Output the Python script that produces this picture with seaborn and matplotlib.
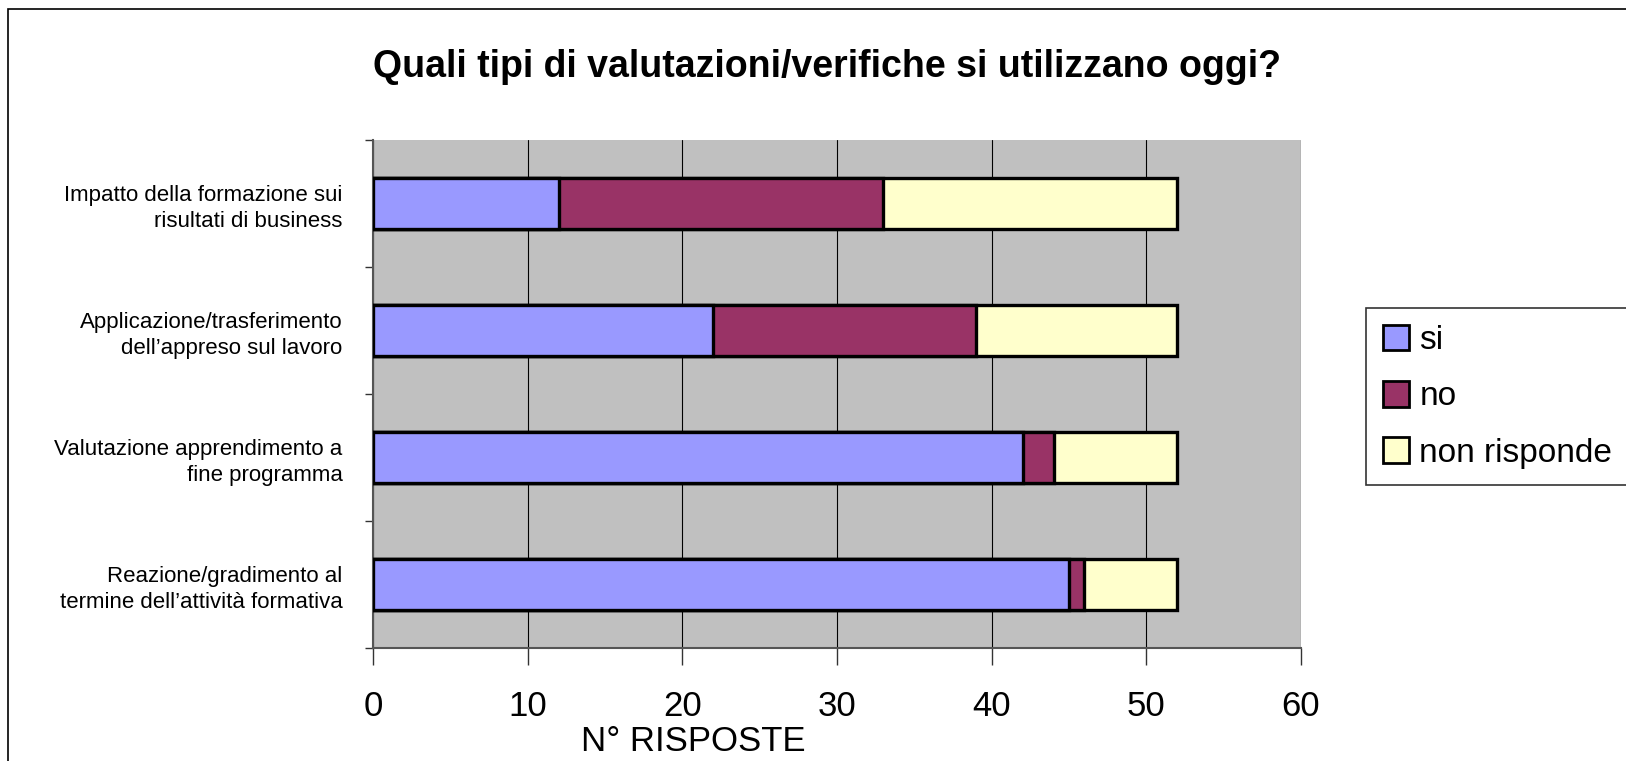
import pandas as pd
import matplotlib
matplotlib.use("Agg")
from matplotlib import pyplot as plt
from matplotlib.patches import Patch, Rectangle
import seaborn as sb

categories = [
    "Impatto della formazione sui\nrisultati di business",
    "Applicazione/trasferimento\ndell\u2019appreso sul lavoro",
    "Valutazione apprendimento a\nfine programma",
    "Reazione/gradimento al\ntermine dell\u2019attivit\u00e0 formativa",
]
si = [12, 22, 42, 45]
no = [21, 17, 2, 1]
non_risponde = [19, 13, 8, 6]
series_names = ["si", "no", "non risponde"]
colors = ["#9999FF", "#993366", "#FFFFCC"]
x_ticks = [0, 10, 20, 30, 40, 50, 60]

df = pd.DataFrame({"cat": categories, "si": si, "no": no, "non": non_risponde})
df["cum_si"] = df["si"]
df["cum_no"] = df["si"] + df["no"]
df["cum_non"] = df["cum_no"] + df["non"]

sb.set_theme(style="white")
plt.rcParams["font.family"] = ["Liberation Sans", "DejaVu Sans"]
plt.rcParams["text.color"] = "black"
plt.rcParams["xtick.color"] = "black"
plt.rcParams["ytick.color"] = "black"
plt.rcParams["axes.labelcolor"] = "black"

fig = plt.figure(figsize=(16.26, 7.61), dpi=100)
ax = fig.add_axes([373 / 1626, 1 - 648 / 761, 928 / 1626, 508 / 761])
ax.set_facecolor("#C0C0C0")

# stacked bars: draw the cumulative totals from the largest down
for col, c in zip(["cum_non", "cum_no", "cum_si"], colors[::-1]):
    sb.barplot(data=df, x=col, y="cat", orient="h", color=c, width=0.4,
               edgecolor="black", linewidth=2.4, saturation=1, ax=ax, zorder=3)

ax.set_xlim(0, 60)
ax.set_ylim(3.5, -0.5)
ax.set_xticks(x_ticks)
ax.set_xticklabels([str(t) for t in x_ticks], fontsize=25)
ax.tick_params(axis="x", length=12, width=1, color="#333333", pad=18, direction="out", bottom=True)
ax.set_yticks(range(len(categories)))
ax.set_yticklabels(categories, fontsize=16, linespacing=1.3)
ax.tick_params(axis="y", which="major", length=0, pad=22)
ax.set_yticks([-0.5, 0.5, 1.5, 2.5, 3.5], minor=True)
ax.tick_params(axis="y", which="minor", length=6, width=1, color="#333333", left=True)
ax.grid(axis="x", color="black", linewidth=0.8, zorder=1)
ax.set_axisbelow(True)
ax.set_ylabel("")
ax.set_xlabel("N\u00b0 RISPOSTE", fontsize=25)
ax.xaxis.set_label_coords(0.345, -0.185)
ax.xaxis.label.set_va("center")
for s in ["top", "right"]:
    ax.spines[s].set_visible(False)
for s in ["left", "bottom"]:
    ax.spines[s].set_color("#555555")
    ax.spines[s].set_linewidth(1.5)

fig.text(827 / 1626, 1 - 67 / 761, "Quali tipi di valutazioni/verifiche si utilizzano oggi?",
         ha="center", va="center", fontsize=27, fontweight="bold")

# outer chart frame
fig.patches.append(Rectangle((8 / 1626, -0.1), 1.2, 1 - 9 / 761 + 0.1, transform=fig.transFigure,
                             fill=False, edgecolor="black", linewidth=1.2))

handles = [Patch(facecolor=c, edgecolor="black", linewidth=2) for c in colors]
leg = fig.legend(handles, series_names, loc="upper left", bbox_to_anchor=(1366 / 1626, 1 - 308 / 761),
                 fontsize=24, frameon=True, fancybox=False, handlelength=0.8, handleheight=0.8,
                 handletextpad=0.3, labelspacing=0.75, borderpad=0.5, borderaxespad=0)
leg.get_frame().set_edgecolor("black")
leg.get_frame().set_linewidth(1.2)

plt.savefig("out.png", dpi=100)
